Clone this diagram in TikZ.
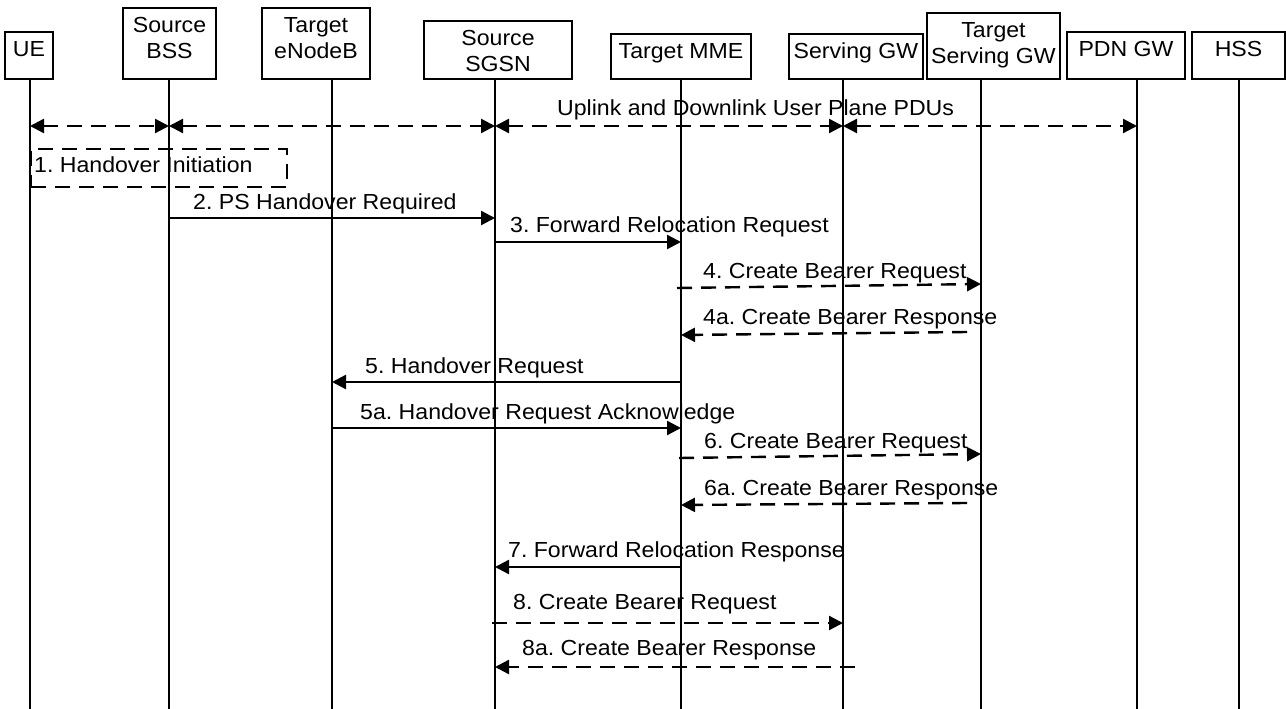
\documentclass[tikz,border=0pt]{standalone}
\usepackage{fontspec}
\setmainfont{Liberation Sans}[FakeStretch=1.06]
\frenchspacing
\usetikzlibrary{arrows.meta,calc}
\begin{document}
\begin{tikzpicture}[x=1pt,y=-1pt,
  hdrbox/.style={draw=black,line width=2.6pt,inner sep=0pt},
  hdrtext/.style={anchor=north,inner sep=0pt,align=center,font=\fontsize{21.8}{26.5}\selectfont},
  life/.style={line width=2.3pt},
  lbl/.style={anchor=base west,inner sep=0pt,font=\fontsize{21.8}{26.5}\selectfont},
  msg/.style={line width=2.4pt,-{Triangle[length=14pt,width=14pt]}},
  dmsg/.style={msg,dash pattern=on 15pt off 9pt},
  dbl/.style={line width=2.4pt,dash pattern=on 15pt off 9pt,{Triangle[length=14pt,width=14pt]}-{Triangle[length=14pt,width=14pt]}},
  dbox/.style={draw=black,line width=2.3pt,dash pattern=on 15pt off 9pt,inner sep=0pt}
]
\useasboundingbox[fill=white] (0,0) rectangle (1286,709);

% lifeline tops
\coordinate (l-ue)   at (30,79);
\coordinate (l-bss)  at (169,79);
\coordinate (l-enb)  at (332,79);
\coordinate (l-sgsn) at (495,79);
\coordinate (l-mme)  at (681,79);
\coordinate (l-sgw)  at (843,79);
\coordinate (l-tsgw) at (981,79);
\coordinate (l-pdn)  at (1137,79);
\coordinate (l-hss)  at (1239,79);

\foreach \l in {ue,bss,enb,sgsn,mme,sgw,tsgw,pdn,hss}
  \draw[life] (l-\l) -- (l-\l |- 0,709);

% header boxes
\node[hdrbox,minimum width=48pt,minimum height=47pt]  (ue)   at (29,55.5)   {};
\node[hdrbox,minimum width=93pt,minimum height=71pt]  (bss)  at (169.5,43.5) {};
\node[hdrbox,minimum width=108pt,minimum height=71pt] (enb)  at (316,43.5)  {};
\node[hdrbox,minimum width=148pt,minimum height=58pt] (sgsn) at (498,50)    {};
\node[hdrbox,minimum width=140pt,minimum height=45pt] (mme)  at (681,56.5)  {};
\node[hdrbox,minimum width=134pt,minimum height=45pt] (sgw)  at (856,56.5)  {};
\node[hdrbox,minimum width=133pt,minimum height=66pt] (tsgw) at (993.5,46)  {};
\node[hdrbox,minimum width=118pt,minimum height=47pt] (pdn)  at (1126,55.5) {};
\node[hdrbox,minimum width=93pt,minimum height=47pt]  (hss)  at (1238.5,55.5) {};

\node[hdrtext] (ue-t)   at (29,41)     {UE};
\node[hdrtext] (bss-t)  at (169.5,17)  {Source\\BSS};
\node[hdrtext] (enb-t)  at (316,17)    {Target\\eNodeB};
\node[hdrtext] (sgsn-t) at (498,30)    {Source\\SGSN};
\node[hdrtext] (mme-t)  at (681,43)    {Target MME};
\node[hdrtext] (sgw-t)  at (856,43)    {Serving GW};
\node[hdrtext] (tsgw-t) at (993.5,22)  {Target\\Serving GW};
\node[hdrtext] (pdn-t)  at (1126,41)   {PDN GW};
\node[hdrtext] (hss-t)  at (1238.5,41) {HSS};

% user plane
\node[lbl] (up-t) at (557,115) {Uplink and Downlink User Plane PDUs};
\draw[dbl] (l-ue |- 0,126)   -- (l-bss |- 0,126);
\draw[dbl] (l-bss |- 0,126)  -- (l-sgsn |- 0,126);
\draw[dbl] (l-sgsn |- 0,126) -- (l-sgw |- 0,126);
\draw[dbl] (l-sgw |- 0,126)  -- (l-pdn |- 0,126);

% 1
\node[dbox,anchor=north west,minimum width=256pt,minimum height=38pt] (hoi) at (30,148) {};
\node[lbl] (m1) at (34,172) {1. Handover Initiation};

% 2
\node[lbl] (m2) at (193,209) {2. PS Handover Required};
\draw[msg] (l-bss |- 0,218) -- (l-sgsn |- 0,218);
% 3
\node[lbl] (m3) at (510,232) {3. Forward Relocation Request};
\draw[msg] (l-sgsn |- 0,242) -- (l-mme |- 0,242);
% 4
\node[lbl] (m4) at (703,278) {4. Create Bearer Request};
\draw[dmsg] ($(l-mme |- 0,288)+(-4,0)$) -- (l-tsgw |- 0,284);
% 4a
\node[lbl] (m4a) at (703,324) {4a. Create Bearer Response};
\draw[dmsg] ($(l-tsgw |- 0,332)+(-14,0)$) -- (l-mme |- 0,335);
% 5
\node[lbl] (m5) at (365,373) {5. Handover Request};
\draw[msg] (l-mme |- 0,382) -- (l-enb |- 0,382);
% 5a
\node[lbl] (m5a) at (360,419) {5a. Handover Request Acknowledge};
\draw[msg] (l-enb |- 0,428) -- (l-mme |- 0,428);
% 6
\node[lbl] (m6) at (704,448) {6. Create Bearer Request};
\draw[dmsg] ($(l-mme |- 0,458)+(-2,0)$) -- (l-tsgw |- 0,454);
% 6a
\node[lbl] (m6a) at (704,495) {6a. Create Bearer Response};
\draw[dmsg] ($(l-tsgw |- 0,503)+(-14,0)$) -- (l-mme |- 0,505);
% 7
\node[lbl] (m7) at (508,557) {7. Forward Relocation Response};
\draw[msg] (l-mme |- 0,567) -- (l-sgsn |- 0,567);
% 8
\node[lbl] (m8) at (513,609) {8. Create Bearer Request};
\draw[dmsg] ($(l-sgsn |- 0,623)+(-3,0)$) -- (l-sgw |- 0,623);
% 8a
\node[lbl] (m8a) at (522,655) {8a. Create Bearer Response};
\draw[dmsg] ($(l-sgw |- 0,667)+(12,0)$) -- (l-sgsn |- 0,667);
\end{tikzpicture}
\end{document}
